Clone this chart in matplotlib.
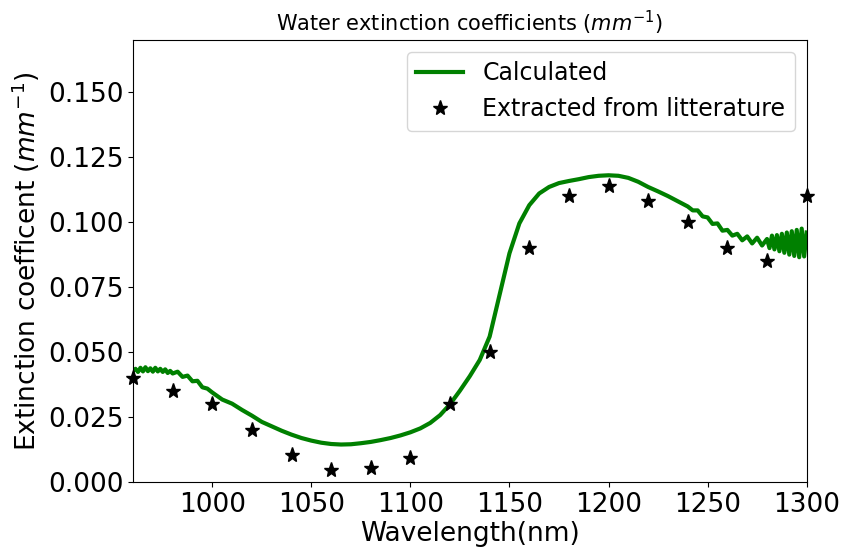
import matplotlib
matplotlib.use("Agg")
import matplotlib.pyplot as plt

# Calculated extinction coefficient (mm^-1) vs wavelength (nm)
calc_wl = [960, 961.25, 962.5, 963.75, 965, 966.25, 967.5, 968.75, 970, 971.25, 972.5,
           973.75, 975, 976.25, 977.5, 978.75, 980, 982.5, 985, 987.5,
           990, 992.5, 995, 997.5, 1000, 1005, 1010, 1015, 1020, 1025, 1030, 1035,
           1040, 1045, 1050, 1055, 1060, 1065, 1070, 1075, 1080, 1085, 1090, 1095,
           1100, 1105, 1110, 1115, 1120, 1125, 1130, 1135, 1140, 1145, 1150, 1155,
           1160, 1165, 1170, 1175, 1180, 1185, 1190, 1195, 1200, 1205, 1210, 1215,
           1220, 1225, 1230, 1235, 1240, 1242.5, 1245, 1247.5, 1250, 1252.5, 1255,
           1257.5, 1260, 1262.5, 1265, 1267.5, 1270, 1272.5, 1275, 1277.5, 1280,
           1281.25, 1282.5, 1283.75, 1285, 1286.25, 1287.5, 1288.75, 1290,
           1291.25, 1292.5, 1293.75, 1295, 1296.25, 1297.5, 1298.75, 1300]
calc_val = [0.0428, 0.0436, 0.0424, 0.0440, 0.0426, 0.0442, 0.0427, 0.0438, 0.0425,
            0.0440, 0.0426, 0.0436, 0.0424, 0.0434, 0.0420, 0.0428, 0.0418,
            0.0425, 0.0405, 0.0410, 0.0388, 0.0390, 0.0365, 0.0360, 0.0345,
            0.0318, 0.0302, 0.0278, 0.0256, 0.0232, 0.0215, 0.0198, 0.0183,
            0.0170, 0.0160, 0.0152, 0.0147, 0.0145, 0.0146, 0.0150, 0.0155,
            0.0162, 0.0170, 0.0180, 0.0192, 0.0207, 0.0228, 0.0258, 0.0300,
            0.0352, 0.0408, 0.0470, 0.0560, 0.0720, 0.0880, 0.0995, 0.1065,
            0.1110, 0.1135, 0.1150, 0.1158, 0.1165, 0.1173, 0.1178, 0.1180,
            0.1178, 0.1170, 0.1155, 0.1135, 0.1118, 0.1100, 0.1080, 0.1060,
            0.1045, 0.1045, 0.1022, 0.1018, 0.0993, 0.0995, 0.0967, 0.0970,
            0.0948, 0.0955, 0.0930, 0.0945, 0.0918, 0.0940, 0.0910, 0.0935,
            0.0900, 0.0948, 0.0895, 0.0950, 0.0888, 0.0955, 0.0882, 0.0960,
            0.0875, 0.0965, 0.0870, 0.0970, 0.0865, 0.0975, 0.0868, 0.0960]

# Values extracted from literature
lit_wl = [960, 980, 1000, 1020, 1040, 1060, 1080, 1100, 1120, 1140, 1160, 1180,
          1200, 1220, 1240, 1260, 1280, 1300]
lit_val = [0.040, 0.035, 0.030, 0.020, 0.0104, 0.0048, 0.0055, 0.0095, 0.030, 0.050,
           0.090, 0.110, 0.114, 0.108, 0.100, 0.090, 0.085, 0.110]

fig = plt.figure(figsize=(8.42, 5.48), dpi=100)
ax = fig.add_subplot(111)
fig.subplots_adjust(left=0.158, right=0.958, top=0.927, bottom=0.120)

ax.plot(calc_wl, calc_val, color="green", linewidth=3, label="Calculated")
ax.plot(lit_wl, lit_val, linestyle="none", marker="*", color="black",
        markersize=11, label="Extracted from litterature", clip_on=False)

ax.set_xlim(960, 1300)
ax.set_ylim(0, 0.17)
ax.set_xticks([1000, 1050, 1100, 1150, 1200, 1250, 1300])
ax.set_yticks([0.0, 0.025, 0.05, 0.075, 0.1, 0.125, 0.15])
ax.tick_params(labelsize=19)

ax.set_title("Water extinction coefficients ($mm^{-1}$)", fontsize=15)
ax.set_xlabel("Wavelength(nm)", fontsize=19, labelpad=2)
ax.set_ylabel("Extinction coefficent ($mm^{-1}$)", fontsize=19)
ax.legend(loc="upper right", fontsize=17)

fig.savefig("out.png", dpi=100)
